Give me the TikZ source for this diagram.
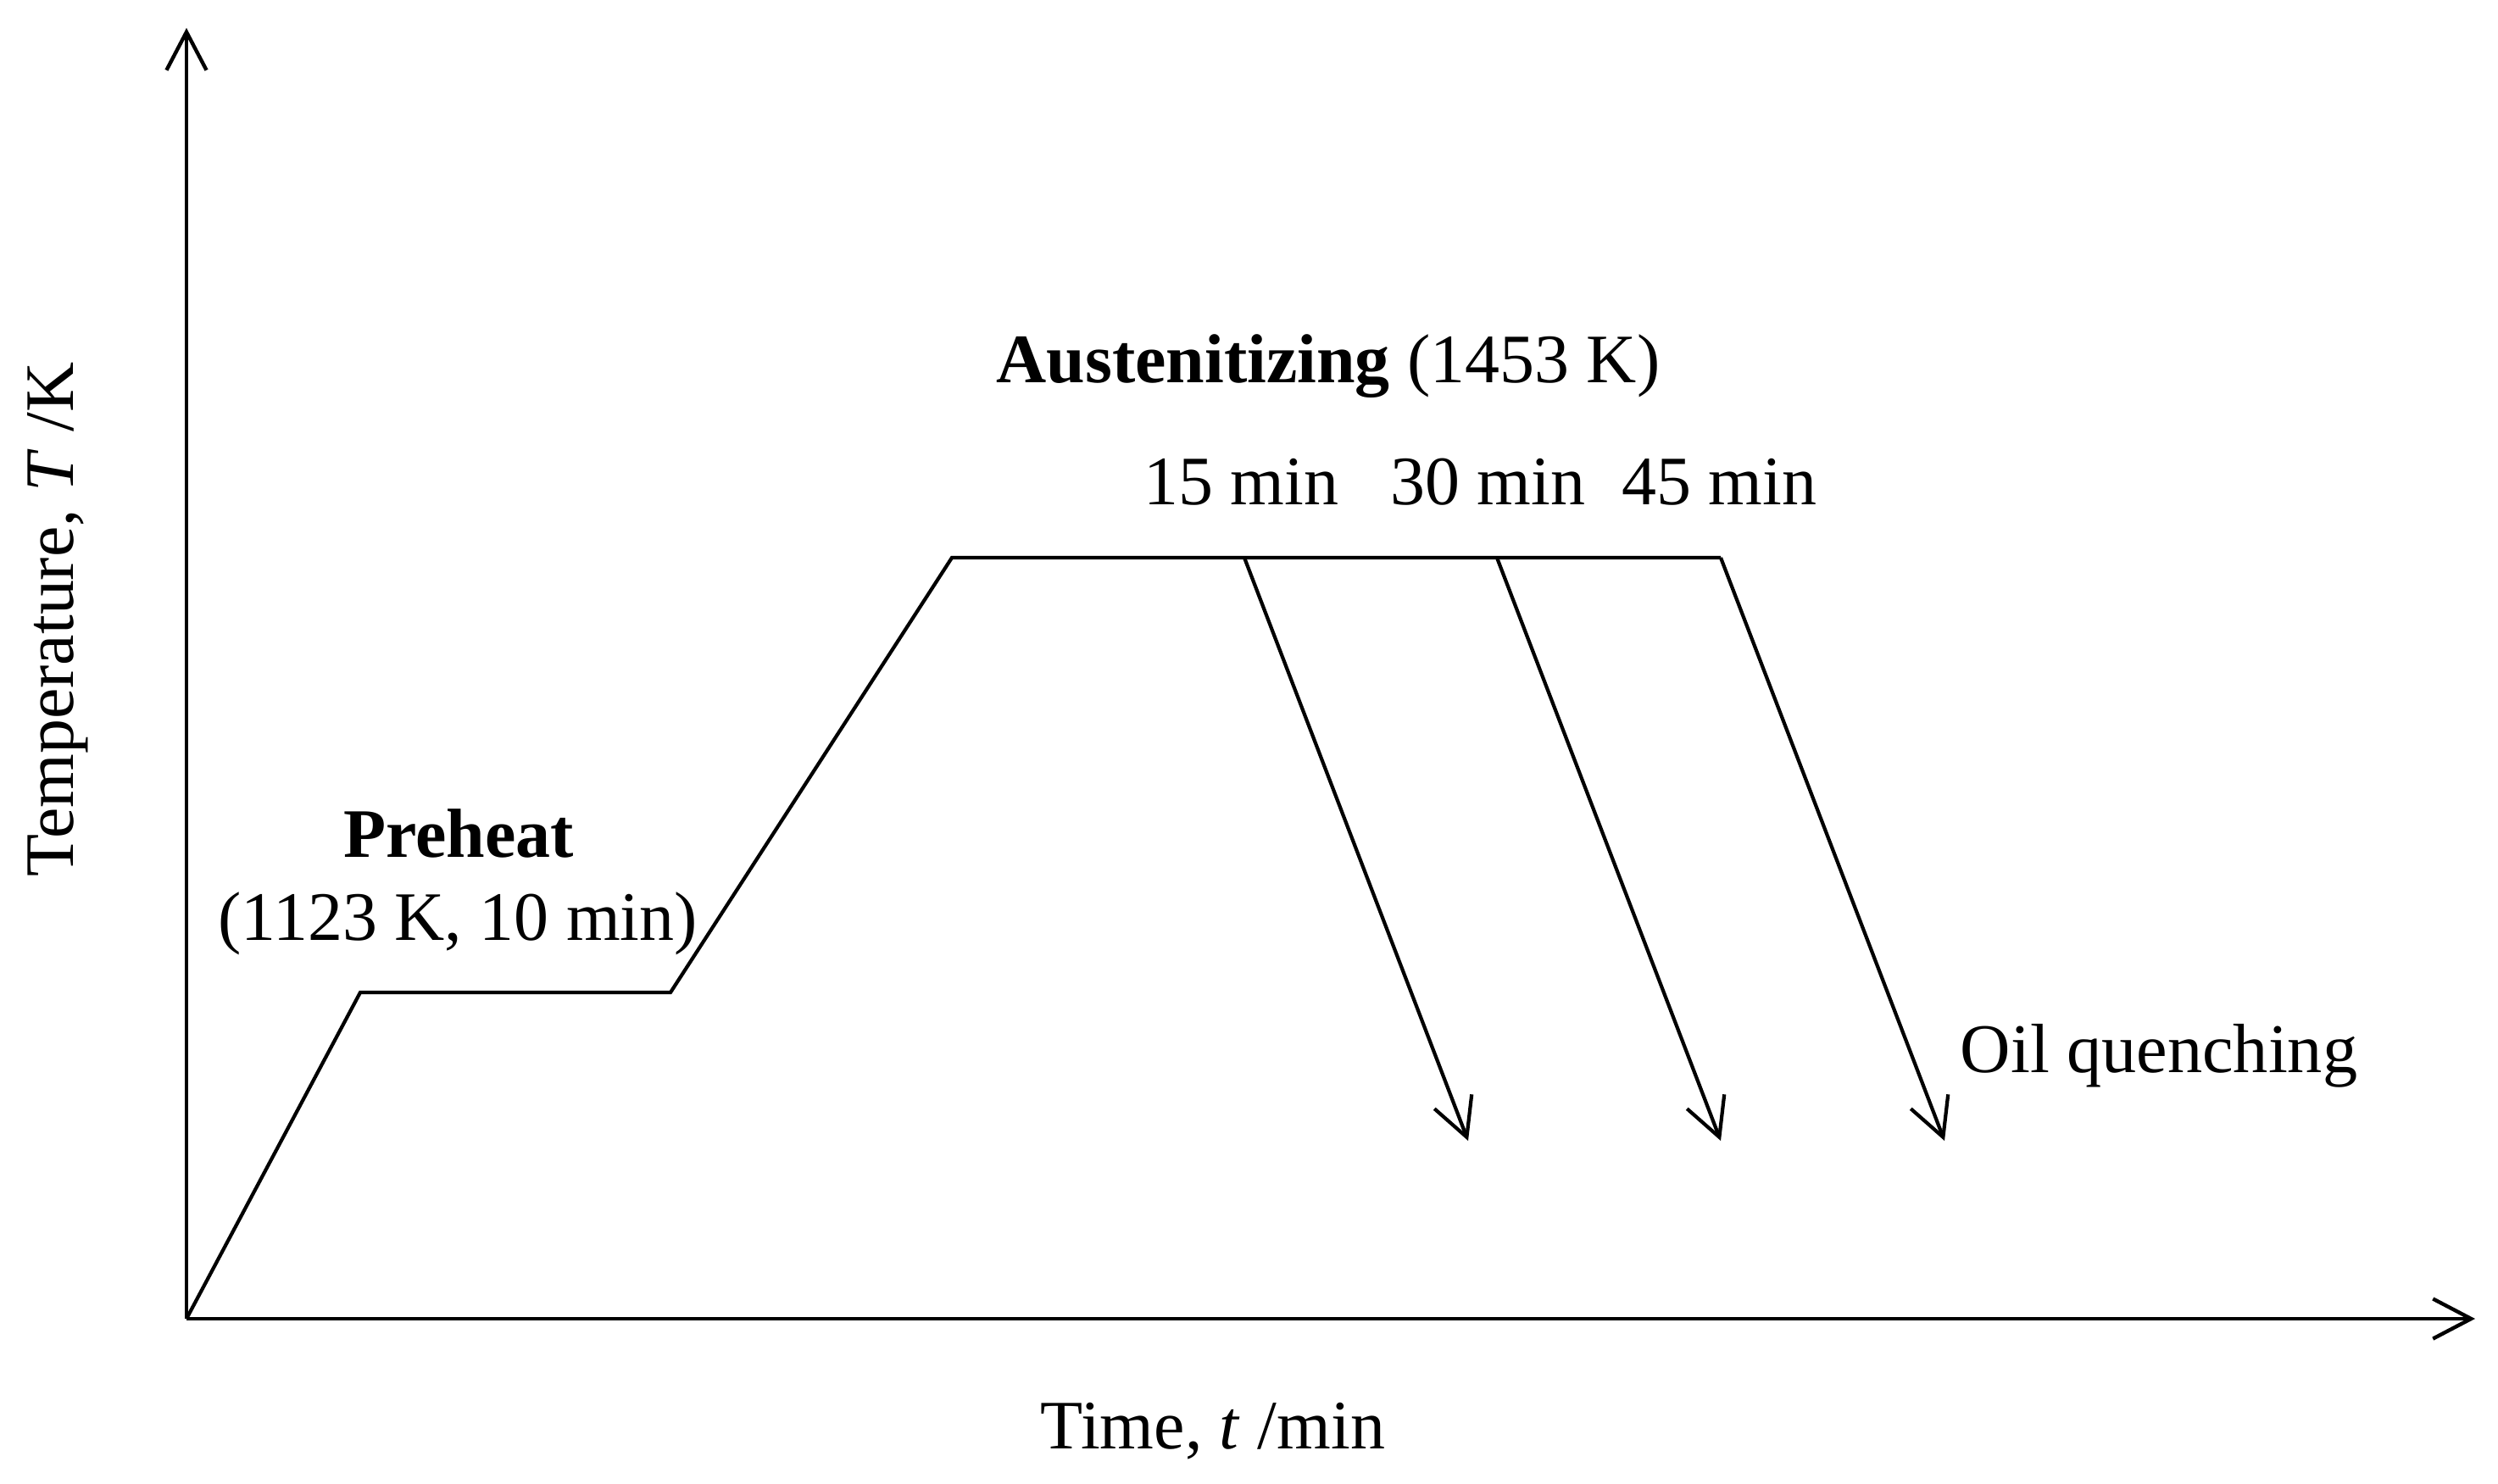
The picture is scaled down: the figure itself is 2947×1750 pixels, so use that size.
\documentclass[tikz,border=0pt]{standalone}
\usepackage{fontspec}
\setmainfont{Liberation Serif}
\usetikzlibrary{arrows.meta}
\begin{document}
\begin{tikzpicture}[x=0.01cm,y=-0.01cm,
  curve/.style={line width=1.2pt, line join=miter},
  axis/.style={line width=1.25pt, -{Straight Barb[length=12.8pt,width=13.4pt]}},
  quench/.style={line width=1.2pt, -{Straight Barb[length=12.8pt,width=13.4pt]}},
  lbl/.style={inner sep=0pt, anchor=base, font=\fontsize{23.3}{28}\selectfont},
  leftlbl/.style={inner sep=0pt, anchor=base west, font=\fontsize{23.4}{28}\selectfont}]
\useasboundingbox (0,0) rectangle (2947,1750);
% axes
\coordinate (O) at (220,1556);
\coordinate (ytop) at (220,33);
\coordinate (xend) at (2920,1556);
\draw[axis] (O) -- (ytop);
\draw[axis] (O) -- (xend);
% temperature profile
\coordinate (p1) at (425,1171);
\coordinate (p2) at (791,1171);
\coordinate (a1) at (1123,658);
\coordinate (q15) at (1468,658);
\coordinate (q30) at (1766,658);
\coordinate (q45) at (2030,658);
\coordinate (e15) at (1732,1346);
\coordinate (e30) at (2030,1346);
\coordinate (e45) at (2294,1346);
\draw[curve] (O) -- (p1) -- (p2) -- (a1) -- (q45);
\draw[quench] (q15) -- (e15);
\draw[quench] (q30) -- (e30);
\draw[quench] (q45) -- (e45);
% labels
\node[lbl] (preheat) at (541,1011) {\textbf{Preheat}};
\node[lbl] (preheatv) at (540,1109) {(1123 K, 10 min)};
\node[lbl] (aust) at (1567,451) {\textbf{Austenitizing} (1453 K)};
\node[lbl] (t15) at (1464,595) {15 min};
\node[lbl] (t30) at (1755,595) {30 min};
\node[lbl] (t45) at (2028,595) {45 min};
\node[leftlbl] (oil) at (2312,1265) {Oil quenching};
\node[lbl] (xlabel) at (1431,1709) {Time, \textit{t} /min};
\node[lbl, rotate=90] (ylabel) at (87,731) {Temperature, \textit{T} /K};
\end{tikzpicture}
\end{document}
